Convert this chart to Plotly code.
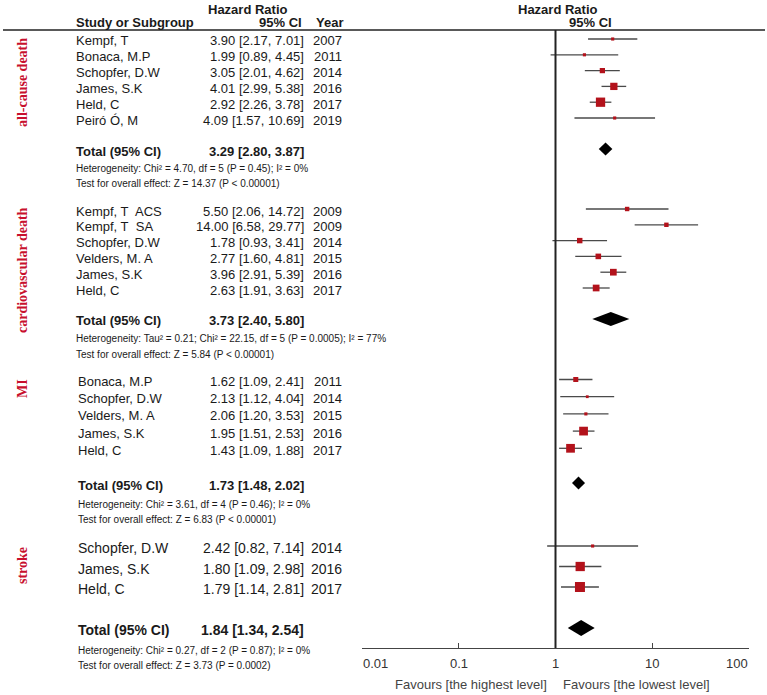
import math
import plotly.graph_objects as go

# ---------------- data ----------------
ac_study = ["Kempf, T", "Bonaca, M.P", "Schopfer, D.W", "James, S.K", "Held, C", "Peiró Ó, M"]
ac_hr = [3.90, 1.99, 3.05, 4.01, 2.92, 4.09]
ac_lo = [2.17, 0.89, 2.01, 2.99, 2.26, 1.57]
ac_hi = [7.01, 4.45, 4.62, 5.38, 3.78, 10.69]
ac_year = [2007, 2011, 2014, 2016, 2017, 2019]
ac_weight = [5, 5, 14, 27, 44, 5]
ac_total = [3.29, 2.80, 3.87]
ac_het = "Heterogeneity: Chi² = 4.70, df = 5 (P = 0.45); I² = 0%"
ac_test = "Test for overall effect: Z = 14.37 (P < 0.00001)"

cv_study = ["Kempf, T\u00a0 ACS", "Kempf, T\u00a0 SA", "Schopfer, D.W", "Velders, M. A", "James, S.K", "Held, C"]
cv_hr = [5.50, 14.00, 1.78, 2.77, 3.96, 2.63]
cv_lo = [2.06, 6.58, 0.93, 1.60, 2.91, 1.91]
cv_hi = [14.72, 29.77, 3.41, 4.81, 5.39, 3.63]
cv_year = [2009, 2009, 2014, 2015, 2016, 2017]
cv_weight = [10, 10, 15, 16, 23, 23]
cv_total = [3.73, 2.40, 5.80]
cv_het = "Heterogeneity: Tau² = 0.21; Chi² = 22.15, df = 5 (P = 0.0005); I² = 77%"
cv_test = "Test for overall effect: Z = 5.84 (P < 0.00001)"

mi_study = ["Bonaca, M.P", "Schopfer, D.W", "Velders, M. A", "James, S.K", "Held, C"]
mi_hr = [1.62, 2.13, 2.06, 1.95, 1.43]
mi_lo = [1.09, 1.12, 1.20, 1.51, 1.09]
mi_hi = [2.41, 4.04, 3.53, 2.53, 1.88]
mi_year = [2011, 2014, 2015, 2016, 2017]
mi_weight = [13, 4, 5, 39, 39]
mi_total = [1.73, 1.48, 2.02]
mi_het = "Heterogeneity: Chi² = 3.61, df = 4 (P = 0.46); I² = 0%"
mi_test = "Test for overall effect: Z = 6.83 (P < 0.00001)"

st_study = ["Schopfer, D.W", "James, S.K", "Held, C"]
st_hr = [2.42, 1.80, 1.79]
st_lo = [0.82, 1.09, 1.14]
st_hi = [7.14, 2.98, 2.81]
st_year = [2014, 2016, 2017]
st_weight = [5, 44, 51]
st_total = [1.84, 1.34, 2.54]
st_het = "Heterogeneity: Chi² = 0.27, df = 2 (P = 0.87); I² = 0%"
st_test = "Test for overall effect: Z = 3.73 (P = 0.0002)"

group_labels = ["all-cause death", "cardiovascular death", "MI", "stroke"]
tick_vals = [0.01, 0.1, 1, 10, 100]
tick_text = ["0.01", "0.1", "1", "10", "100"]
favours_left = "Favours [the highest level]"
favours_right = "Favours [the lowest level]"

sections = [
    (ac_study, ac_hr, ac_lo, ac_hi, ac_year, ac_weight, ac_total, ac_het, ac_test),
    (cv_study, cv_hr, cv_lo, cv_hi, cv_year, cv_weight, cv_total, cv_het, cv_test),
    (mi_study, mi_hr, mi_lo, mi_hi, mi_year, mi_weight, mi_total, mi_het, mi_test),
    (st_study, st_hr, st_lo, st_hi, st_year, st_weight, st_total, st_het, st_test),
]

# ---------------- layout (pixel) ----------------
W, H = 767, 695
AX_Y = 648
SANS = "Liberation Sans, Arial, sans-serif"
NARROW = "Liberation Sans Narrow, Liberation Sans, Arial Narrow, sans-serif"
SERIF = "Liberation Serif, Times New Roman, serif"
TXT = "#1a1a1a"
RED_LABEL = "#c8102e"
RED_MARK = "#b3121b"

sec_layout = [
    dict(y0=39, pitch=15.8, total=149, het=168, test=183, label=83, fs=13, dh=6.5, x=75, hetfont=SANS, hetsize=10),
    dict(y0=209, pitch=15.8, total=319, het=338, test=354, label=270, fs=13, dh=7, x=75, hetfont=NARROW, hetsize=10),
    dict(y0=379.5, pitch=17.2, total=483, het=504, test=519, label=389, fs=13, dh=6.5, x=77, hetfont=SANS, hetsize=10),
    dict(y0=546, pitch=20.5, total=628, het=650, test=665, label=566, fs=14, dh=8, x=77, hetfont=SANS, hetsize=10),
]
CI_RIGHT = 305
YEAR_RIGHT = 343
TXT_DY = 2


def py(y):
    return 1 - y / H


def px(x):
    return x / W


fig = go.Figure()
ann = []


def text(x, y, s, size=13, anchor="left", bold=False, color=TXT, family=SANS, angle=0, xref="paper"):
    ann.append(dict(
        x=px(x) if xref == "paper" else x, y=py(y), xref=xref, yref="paper", text=s, showarrow=False,
        xanchor=anchor, yanchor="middle", textangle=angle, borderpad=0,
        font=dict(size=size, color=color, family=family, weight="bold" if bold else "normal"),
    ))


# headers
text(248, 9, "Hazard Ratio", anchor="center", bold=True)
text(75, 23, "Study or Subgroup", bold=True)
text(303, 23, "95% CI", anchor="right", bold=True)
text(315, 23, "Year", bold=True)
text(558, 9, "Hazard Ratio", anchor="center", bold=True)
text(590, 23, "95% CI", anchor="center", bold=True)

for si, (sec, lay) in enumerate(zip(sections, sec_layout)):
    study, hr, lo, hi, year, weight, total, het, test = sec
    ys = [lay["y0"] + i * lay["pitch"] for i in range(len(study))]
    for i in range(len(study)):
        text(lay["x"], ys[i] + TXT_DY, study[i], size=lay["fs"])
        text(CI_RIGHT, ys[i] + TXT_DY, f"{hr[i]:.2f} [{lo[i]:.2f}, {hi[i]:.2f}]", size=lay["fs"], anchor="right")
        text(YEAR_RIGHT, ys[i] + TXT_DY, str(year[i]), size=lay["fs"], anchor="right")
    fig.add_trace(go.Scatter(
        x=hr, y=ys, mode="markers",
        marker=dict(symbol="square", color=RED_MARK, opacity=1, size=[1.4 * math.sqrt(w) for w in weight], line=dict(width=0)),
        error_x=dict(type="data", symmetric=False,
                     array=[h - e for h, e in zip(hi, hr)],
                     arrayminus=[e - l for e, l in zip(hr, lo)],
                     color="#4a4a4a", thickness=1.3, width=0),
        showlegend=False, hoverinfo="skip",
    ))
    te, tl, th = total
    ty = lay["total"]
    text(lay["x"], ty + TXT_DY, "Total (95% CI)", size=lay["fs"], bold=True)
    text(CI_RIGHT, ty + TXT_DY, f"{te:.2f} [{tl:.2f}, {th:.2f}]", size=lay["fs"], anchor="right", bold=True)
    dh = lay["dh"]
    fig.add_trace(go.Scatter(
        x=[tl, te, th, te, tl], y=[ty, ty - dh, ty, ty + dh, ty],
        mode="lines", fill="toself", fillcolor="black", line=dict(width=0, color="black"),
        showlegend=False, hoverinfo="skip",
    ))
    text(lay["x"], lay["het"], het, size=lay["hetsize"], family=lay["hetfont"])
    text(lay["x"], lay["test"], test, size=lay["hetsize"])
    text(22, lay["label"], group_labels[si], size=14, bold=True, color=RED_LABEL, family=SERIF, anchor="center", angle=-90)

# axis tick labels (first left-aligned, last right-aligned, as in RevMan); log axis -> log10 position
for k, (tv, tt) in enumerate(zip(tick_vals, tick_text)):
    anchor = "left" if k == 0 else ("right" if k == len(tick_vals) - 1 else "center")
    text(math.log10(tv), 663, tt, size=13, anchor=anchor, color="#333", xref="x")

text(548, 684, favours_left, size=13, anchor="right", color="#444")
text(562, 684, favours_right, size=13, anchor="left", color="#444")

shapes = [
    dict(type="line", xref="paper", yref="y", x0=px(3), x1=px(765), y0=30, y1=30,
         line=dict(color="#222", width=1.5)),
    dict(type="line", xref="x", yref="y", x0=1, x1=1, y0=30, y1=AX_Y,
         line=dict(color="#222", width=2)),
]

fig.update_layout(
    width=W, height=H, autosize=False,
    margin=dict(l=0, r=0, t=0, b=0, pad=0, autoexpand=False),
    paper_bgcolor="white", plot_bgcolor="white",
    annotations=ann, shapes=shapes, showlegend=False, hovermode=False,
    xaxis=dict(
        type="log", range=[-2, 2], domain=[px(362), px(749)], anchor="y", automargin=False,
        showline=True, linecolor="#444", linewidth=1.2,
        ticks="inside", ticklen=5, tickcolor="#444", tickwidth=1.2,
        tickvals=tick_vals, showticklabels=False,
        showgrid=False, zeroline=False, fixedrange=True,
    ),
    yaxis=dict(domain=[1 - AX_Y / H, 1], range=[AX_Y, 0], visible=False, fixedrange=True, automargin=False),
)

fig.write_html(
    "out.html",
    config={"displayModeBar": False, "responsive": False},
    post_script="document.body.style.margin='0';document.body.style.overflow='hidden';",
)
